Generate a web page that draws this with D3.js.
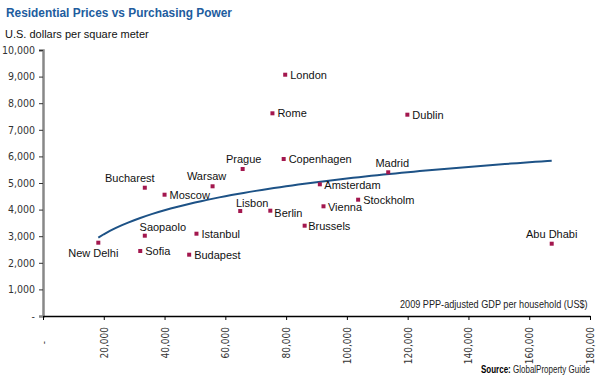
<!DOCTYPE html>
<html>
<head>
<meta charset="utf-8">
<script src="https://d3js.org/d3.v7.min.js"></script>
<style>
  body { margin: 0; background: #fff; }
  svg { display: block; }
  .narrow { font-family: "Liberation Sans Narrow", "DejaVu Sans Condensed", Arial, sans-serif; }
  .arial { font-family: "Liberation Sans", Arial, sans-serif; }
  .city { font-family: "Liberation Sans", Arial, sans-serif; font-size: 11px; fill: #111; }
</style>
</head>
<body>
<div id="chart"></div>
<script>
// values
const cities = ["New Delhi", "Saopaolo", "Sofia", "Bucharest", "Moscow", "Istanbul", "Budapest",
    "Warsaw", "Lisbon", "Prague", "Berlin", "Rome", "Copenhagen", "London", "Brussels",
    "Amsterdam", "Vienna", "Stockholm", "Madrid", "Dublin", "Abu Dhabi"]
const gdp = [18200, 33500, 32000, 33500, 40000, 50500, 48100, 55800, 64900, 65700, 74800,
    75500, 79200, 79700, 86100, 91100, 92300, 103700, 113600, 119900, 167400]
const price = [2756, 3019, 2444, 4823, 4560, 3094, 2305, 4876, 3947, 5526, 3959, 7620, 5902,
    9071, 3395, 4951, 4124, 4372, 5402, 7568, 2718]
const xTicks = [0, 20000, 40000, 60000, 80000, 100000, 120000, 140000, 160000, 180000]
const yTicks = [0, 1000, 2000, 3000, 4000, 5000, 6000, 7000, 8000, 9000, 10000]

const width = 600
const height = 380

// where each city label sits relative to its marker: [dx, dy, anchor]
const labelPos = {
    "New Delhi": [-5, 14, "middle"], "Saopaolo": [18, -5, "middle"], "Bucharest": [-15, -5.5, "middle"],
    "Warsaw": [-6, -6, "middle"], "Lisbon": [12, -4, "middle"], "Prague": [1, -6, "middle"],
    "Madrid": [4, -5, "middle"], "Abu Dhabi": [0, -5.5, "middle"], "Berlin": [4, 6, "start"],
    "Amsterdam": [4.5, 5, "start"], "Vienna": [4.5, 4.5, "start"], "Brussels": [3.5, 4, "start"]
}

const svg = d3.select("#chart").append("svg")
    .attr("width", width)
    .attr("height", height)

const x = d3.scaleLinear().domain([0, 180000]).range([43, 590])
const y = d3.scaleLinear().domain([0, 10000]).range([316, 50])

// squeeze a text horizontally so it spans `w` px starting at (x0, y0)
function squeeze(t, x0, y0, w) {
    const k = w / t.node().getComputedTextLength()
    t.attr("transform", `translate(${x0},${y0}) scale(${k},1)`)
}

const title = svg.append("text")
    .attr("class", "arial")
    .attr("font-size", 13.5).attr("font-weight", "bold")
    .attr("fill", "#215c9e")
    .text("Residential Prices vs Purchasing Power")
squeeze(title, 6, 17, 226)

svg.append("text")
    .attr("class", "city")
    .attr("x", 5).attr("y", 38)
    .attr("font-size", 11.5)
    .text("U.S. dollars per square meter")

const fmt = d => d === 0 ? "-" : d3.format(",")(d)

// y axis
const yAxis = svg.append("g")
    .attr("transform", "translate(43,0)")
    .call(d3.axisLeft(y).tickValues(yTicks).tickFormat(fmt).tickSize(4).tickPadding(4))
yAxis.select(".domain").attr("stroke", "#888").attr("stroke-width", 2.5)
yAxis.selectAll(".tick line").attr("stroke", "#333")
yAxis.selectAll(".tick text")
    .attr("class", "narrow")
    .attr("font-size", 10.5)
    .attr("fill", "#333")
yAxis.selectAll(".tick").filter(d => d === 0).select("line").remove()

// x axis with rotated labels
const xAxis = svg.append("g")
    .attr("transform", "translate(0,316)")
    .call(d3.axisBottom(x).tickValues(xTicks).tickFormat(fmt).tickSize(4).tickSizeOuter(0))
xAxis.select(".domain").attr("stroke", "#000").attr("stroke-width", 1.5)
xAxis.selectAll(".tick line").attr("stroke", "#000")
xAxis.selectAll(".tick text")
    .attr("class", "narrow")
    .attr("font-size", 10)
    .attr("fill", "#333")
    .attr("transform", "rotate(-90)")
    .attr("text-anchor", "end")
    .attr("x", -11)
    .attr("y", 0)
    .attr("dy", "0.35em")
xAxis.selectAll(".tick").filter(d => d === 0).select("text").attr("x", -25)

const xTitle = svg.append("text")
    .attr("class", "arial")
    .attr("font-size", 10.5)
    .attr("fill", "#222")
    .text("2009 PPP-adjusted GDP per household (US$)")
squeeze(xTitle, 400, 308, 188)

// logarithmic trend line fitted to the points (least squares on ln x)
const lx = gdp.map(Math.log)
const mx = d3.mean(lx), my = d3.mean(price)
const slope = d3.sum(lx, (v, i) => (v - mx) * (price[i] - my)) / d3.sum(lx, v => (v - mx) * (v - mx))
const icpt = my - slope * mx
const trend = x.ticks(80).filter(v => v >= d3.min(gdp) && v <= d3.max(gdp))
trend.unshift(d3.min(gdp))
trend.push(d3.max(gdp))

svg.append("path")
    .datum(trend)
    .attr("fill", "none")
    .attr("stroke", "#1d5286")
    .attr("stroke-width", 2)
    .attr("d", d3.line().x(d => x(d)).y(d => y(slope * Math.log(d) + icpt)))

// markers
svg.selectAll("rect.pt")
    .data(cities)
    .enter().append("rect")
    .attr("class", "pt")
    .attr("x", (d, i) => x(gdp[i]) - 2)
    .attr("y", (d, i) => y(price[i]) - 2)
    .attr("width", 4)
    .attr("height", 4)
    .attr("fill", "#a3174e")

svg.selectAll("text.lbl")
    .data(cities)
    .enter().append("text")
    .attr("class", "city lbl")
    .attr("x", (d, i) => x(gdp[i]) + (labelPos[d] ? labelPos[d][0] : 5))
    .attr("y", (d, i) => y(price[i]) + (labelPos[d] ? labelPos[d][1] : 4))
    .attr("text-anchor", d => labelPos[d] ? labelPos[d][2] : "start")
    .text(d => d)

// source line
const src = svg.append("text")
    .attr("class", "arial")
    .attr("font-size", 10)
    .attr("fill", "#222")
src.append("tspan").attr("font-weight", "bold").attr("fill", "#000").text("Source: ")
src.append("tspan").text("GlobalProperty Guide")
squeeze(src, 481, 373, 109)
</script>
</body>
</html>
